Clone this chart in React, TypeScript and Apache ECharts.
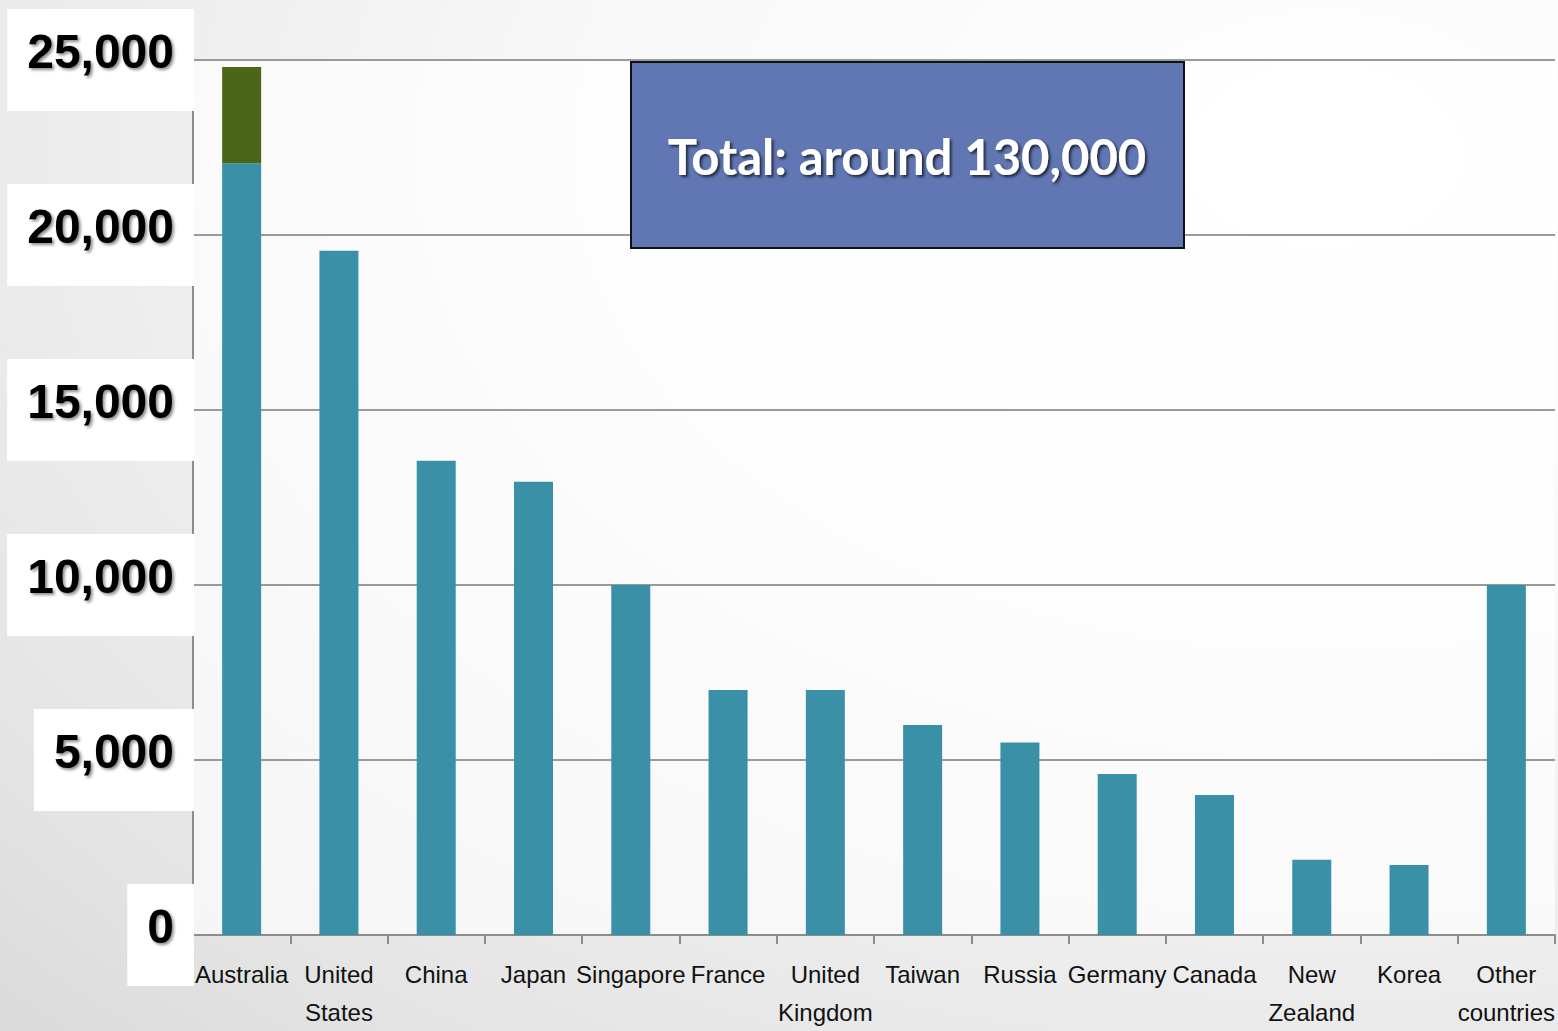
import React, { useEffect, useRef } from "react";
import * as echarts from "echarts";

const categories = [
  "Australia", "United States", "China", "Japan", "Singapore", "France",
  "United Kingdom", "Taiwan", "Russia", "Germany", "Canada", "New Zealand",
  "Korea", "Other countries",
];
const mainValues = [22050, 19550, 13550, 12950, 10000, 7000, 7000, 6000, 5500, 4600, 4000, 2150, 2000, 10000];
const extraValues = [2750, 0, 0, 0, 0, 0, 0, 0, 0, 0, 0, 0, 0, 0];
const yTicks = [0, 5000, 10000, 15000, 20000, 25000];
const totalText = "Total: around 130,000";

export default function App() {
  const ref = useRef<HTMLDivElement>(null);
  useEffect(() => {
    if (!ref.current) return;
    const chart = echarts.init(ref.current, null, { renderer: "svg" });
    const numStyle = {
      fontFamily: "'Liberation Sans', Arial, sans-serif",
      fontWeight: "bold",
      fontSize: 48,
      lineHeight: 48,
      color: "#000",
      textShadowColor: "rgba(0,0,0,0.45)",
      textShadowBlur: 3,
      textShadowOffsetX: 2,
      textShadowOffsetY: 2,
      align: "right",
    };
    chart.setOption({
      animation: false,
      grid: {
        left: 193, right: 2, top: 60, bottom: 90,
        show: true, backgroundColor: "rgba(255,255,255,0.65)", borderWidth: 0,
      },
      xAxis: {
        type: "category",
        data: categories,
        axisLine: { lineStyle: { color: "#8c8c8c", width: 2 } },
        axisTick: { show: true, length: 9, lineStyle: { color: "#8c8c8c", width: 2 } },
        axisLabel: {
          interval: 0,
          margin: 20,
          fontFamily: "'Liberation Sans', Arial, sans-serif",
          fontSize: 24,
          lineHeight: 38,
          color: "#111",
          formatter: (v: string) => v.replace(" ", "\n"),
        },
      },
      yAxis: {
        type: "value",
        min: yTicks[0],
        max: yTicks[yTicks.length - 1],
        interval: 5000,
        axisLine: { show: true, lineStyle: { color: "#8c8c8c", width: 2 } },
        axisTick: { show: false },
        splitLine: { lineStyle: { color: "#9a9a9a", width: 2 } },
        axisLabel: {
          margin: -1,
          backgroundColor: "#ffffff",
          padding: [18, 20, 18, 20],
          formatter: (v: number) => "{t|" + v.toLocaleString("en-US") + "}\n{s|}",
          rich: {
            t: numStyle,
            s: { lineHeight: 18, fontSize: 10, height: 18 },
          },
        },
      },
      series: [
        {
          type: "bar",
          stack: "total",
          data: mainValues,
          barWidth: 39,
          itemStyle: { color: "#3a90a7" },
        },
        {
          type: "bar",
          stack: "total",
          data: extraValues,
          barWidth: 39,
          itemStyle: { color: "#4b6619" },
        },
      ],
      graphic: [
        {
          type: "rect",
          left: 630,
          top: 61,
          shape: { width: 553, height: 186 },
          style: { fill: "#6177b3", stroke: "#111", lineWidth: 2 },
          z: 100,
        },
        {
          type: "text",
          x: 907,
          y: 156,
          z: 101,
          style: {
            text: totalText,
            fill: "#fff",
            font: "bold 49px Lato, 'Open Sans', sans-serif",
            align: "center",
            verticalAlign: "middle",
            textShadowColor: "rgba(0,0,0,0.7)",
            textShadowBlur: 3,
            textShadowOffsetX: 2,
            textShadowOffsetY: 2,
          },
        },
      ],
    });
    return () => chart.dispose();
  }, []);
  return (
    <div
      style={{
        position: "absolute", left: 0, top: 0, width: 1558, height: 1031,
        background: "radial-gradient(ellipse at 85% 15%, #ffffff 0%, #f8f8f8 40%, #e4e4e4 85%, #dadada 100%)",
      }}
    >
      <div ref={ref} style={{ width: 1558, height: 1031 }} />
    </div>
  );
}
